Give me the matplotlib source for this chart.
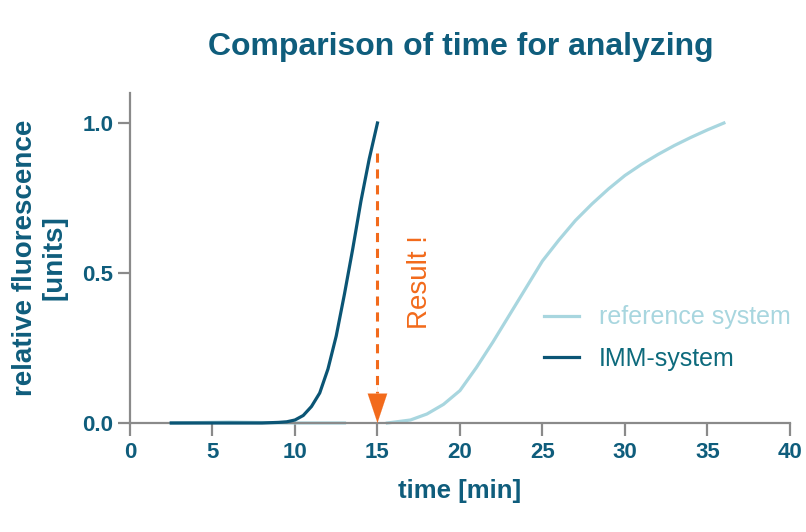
import matplotlib
matplotlib.use("Agg")
import matplotlib.pyplot as plt
import numpy as np

# Data
imm_t = [2.5, 4, 6, 8, 9, 9.5, 10, 10.5, 11, 11.5, 12, 12.5, 13, 13.5, 14, 14.5, 15]
imm_y = [0.0, 0.0, 0.0, 0.0, 0.002, 0.004, 0.01, 0.025, 0.055, 0.10, 0.18, 0.29, 0.43, 0.58, 0.74, 0.88, 1.0]

ref_t = [2.5, 6, 10, 13, np.nan, 15.6, 17, 18, 19, 20, 21, 22, 23, 24, 25, 26, 27, 28, 29, 30, 31, 32, 33, 34, 35, 36]
ref_y = [0.0, 0.003, 0.0, 0.0, np.nan, 0.0, 0.01, 0.03, 0.062, 0.108, 0.185, 0.27, 0.36, 0.45, 0.54, 0.61, 0.675, 0.73, 0.78, 0.825, 0.862, 0.895, 0.925, 0.952, 0.977, 1.0]

xticks = [0, 5, 10, 15, 20, 25, 30, 35, 40]
yticks = [0.0, 0.5, 1.0]
ytick_labels = ["0.0", "0.5", "1.0"]

result_t = 15
arrow_top = 0.9

DARK = "#0b5575"
LIGHT = "#a8d6df"
TEXT = "#0f5d7c"
ORANGE = "#f26a1b"
GRAY = "#8a8a8a"

plt.rcParams['font.family'] = ['Liberation Sans', 'DejaVu Sans']

fig = plt.figure(figsize=(8.06, 5.32), dpi=100)
ax = fig.add_axes([0.1613, 0.2049, 0.8187, 0.6203])

ax.plot(ref_t, ref_y, color=LIGHT, lw=2.3, label="reference system", clip_on=False, zorder=2)
ax.plot(imm_t, imm_y, color=DARK, lw=2.3, label="IMM-system", clip_on=False, zorder=3)

# result arrow
ax.plot([result_t, result_t], [arrow_top, 0.1], color=ORANGE, lw=2.2, ls=(0, (3, 2.2)), zorder=4)
ax.annotate("", xy=(result_t, 0.0), xytext=(result_t, 0.12),
            arrowprops=dict(arrowstyle="-|>,head_length=2.1,head_width=0.7",
                            color=ORANGE, lw=0.1, shrinkA=0, shrinkB=0),
            zorder=5, annotation_clip=False)
ax.text(17.6, 0.47, "Result !", rotation=90, color=ORANGE, fontsize=20,
        ha="center", va="center")

ax.set_xlim(0, 40)
ax.set_ylim(0, 1.1)
ax.set_xticks(xticks)
ax.set_xticklabels([str(t) for t in xticks])
ax.set_yticks(yticks)
ax.set_yticklabels(ytick_labels)

for s in ["top", "right"]:
    ax.spines[s].set_visible(False)
for s in ["left", "bottom"]:
    ax.spines[s].set_color(GRAY)
    ax.spines[s].set_linewidth(1.6)

ax.tick_params(axis="both", colors=GRAY, width=1.6, length=9, labelcolor=TEXT,
               labelsize=16)
ax.tick_params(axis="x", pad=5)
ax.tick_params(axis="y", pad=3)
for lab in ax.get_xticklabels() + ax.get_yticklabels():
    lab.set_fontweight("bold")

ax.set_xlabel("time [min]", color=TEXT, fontsize=18.5, fontweight="bold", labelpad=11)
ax.set_ylabel("relative fluorescence\n[units]", color=TEXT, fontsize=20,
              fontweight="bold", labelpad=11, linespacing=1.15)

fig.suptitle("Comparison of time for analyzing", x=0.572, y=0.94, color=TEXT,
             fontsize=23, fontweight="bold")

leg = ax.legend(loc="center left", bbox_to_anchor=(0.593, 0.257), frameon=False,
                fontsize=18, handlelength=1.4, handletextpad=0.8, labelspacing=0.7,
                labelcolor=[LIGHT, "#0d6a7c"])

fig.savefig("out.png", dpi=100)
